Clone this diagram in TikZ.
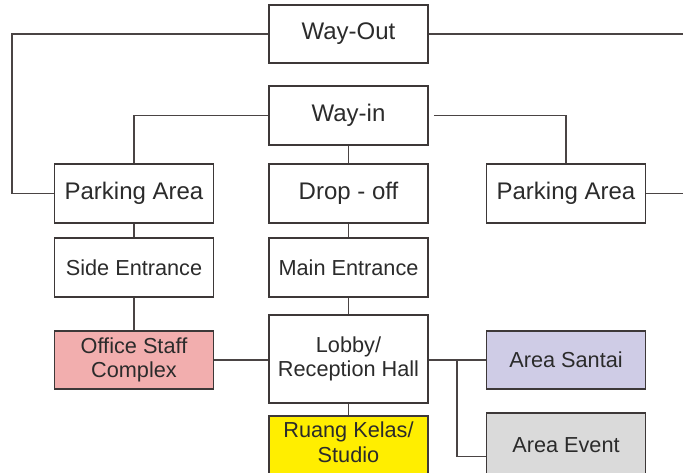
\documentclass[tikz,border=0pt]{standalone}
\usepackage{fontspec}
\setmainfont{Liberation Sans}
\definecolor{boxcol}{HTML}{3D3838}
\definecolor{linecol}{HTML}{4A4444}
\definecolor{txtcol}{HTML}{2B2B2B}
\definecolor{pinkc}{HTML}{F2AEAE}
\definecolor{lavc}{HTML}{CFCCE6}
\definecolor{grayc}{HTML}{DADADA}
\definecolor{yellowc}{HTML}{FFEE00}
\begin{document}
\begin{tikzpicture}[x=1pt,y=-1pt,
  box/.style={draw=boxcol, line width=1.8pt, fill=white, inner sep=0pt, minimum width=159pt, text=txtcol, align=center},
  big/.style={box, font=\fontsize{24}{28}\selectfont},
  small/.style={box, font=\fontsize{21.7}{24.5}\selectfont},
  conn/.style={draw=linecol, line width=1.8pt}]
\useasboundingbox (0,0) rectangle (683,472);
\clip (0,0) rectangle (683,472);
\coordinate (redgeT) at (690,34);
\coordinate (redgeB) at (690,193.5);
\coordinate (ledge) at (12,34);
\coordinate (jn) at (457,360);
% connectors first
\node[big, minimum height=58pt] (wayout) at (348.5,34) {Way-Out};
\node[big, minimum height=59pt] (wayin) at (348.5,115.5) {Way-in};
\node[big, minimum height=59pt] (parkL) at (134,193.5) {Parking Area};
\node[big, minimum height=59pt] (drop) at (348.5,193.5) {Drop - off};
\node[big, minimum height=59pt] (parkR) at (566,193.5) {Parking Area};
\node[small, minimum height=59pt] (side) at (134,267.5) {Side Entrance};
\node[small, minimum height=59pt] (main) at (348.5,267.5) {Main Entrance};
\node[small, minimum height=58pt, fill=pinkc] (office) at (134,360) {Office Staff\\Complex};
\node[small, minimum height=88pt] (lobby) at (348.5,359) {Lobby/\\Reception Hall};
\node[small, minimum height=58pt, fill=lavc] (santai) at (566,360) {Area Santai};
\node[small, minimum height=64pt, fill=grayc] (event) at (566,445) {Area Event};
\node[box, minimum height=70pt, anchor=north, fill=yellowc] (ruang) at (348.5,415) {};
\node[small, draw=none, fill=none] (ruangtxt) at (348.5,442) {Ruang Kelas/\\Studio};
\draw[conn] (wayout.west) -- (ledge) |- (parkL.west);
\draw[conn] (wayout.east) -- (redgeT);
\draw[conn] (parkR.east) -- (redgeB);
\draw[conn] (wayin.west) -| (parkL.north);
\draw[conn, shorten <=5pt] (wayin.east) -| (parkR.north);
\draw[conn] (wayin.south) -- (drop.north);
\draw[conn] (parkL.south) -- (side.north);
\draw[conn] (drop.south) -- (main.north);
\draw[conn] (side.south) -- (office.north);
\draw[conn] (main.south) -- (lobby.north);
\draw[conn] (office.east) -- (lobby.west |- office.east);
\draw[conn] (lobby.east |- santai.west) -- (santai.west);
\draw[conn] (jn) |- ([yshift=-11.5pt]event.west);
\draw[conn] (lobby.south) -- (ruang.north);
\end{tikzpicture}
\end{document}
